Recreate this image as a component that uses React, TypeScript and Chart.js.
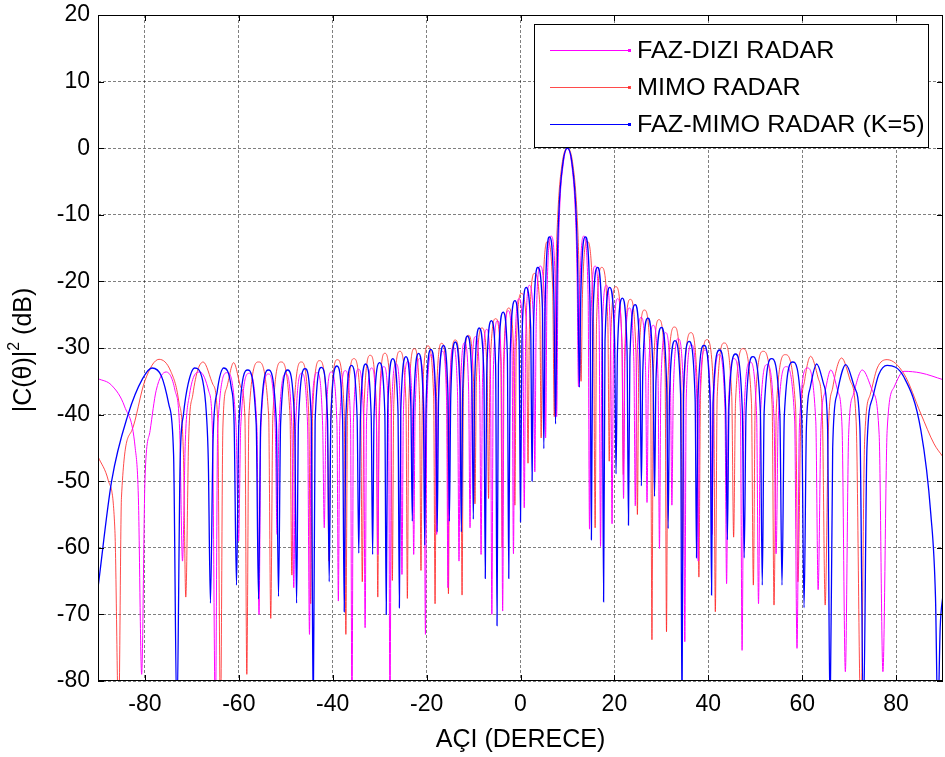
import { useEffect, useRef } from "react";
import { Chart, registerables } from "chart.js";

Chart.register(...registerables);

// ---- axis / labels ----
const xTickValues = [-80, -60, -40, -20, 0, 20, 40, 60, 80];
const yMin = -80;
const yMax = 20;
const yStep = 10;
const xMin = -90;
const xMax = 90;
const xTitle = "AÇI (DERECE)";
const yTitleParts = ["|C(θ)|", "2", " (dB)"];
const legendLabels = ["FAZ-DIZI RADAR", "MIMO RADAR", "FAZ-MIMO RADAR (K=5)"];
const seriesColors = ["#ff00ff", "rgba(255,30,30,0.8)", "#0000ff"];

// ---- series: [angle (deg), level (dB)] ----
const fazDizi: [number, number][] = [
  [-90, -34.6], [-87.1, -35.6], [-84.3, -38.85], [-82.1, -44.85], [-81.4, -52.4],
  [-80.7, -79],
  [-80, -49.9], [-78.9, -42.4], [-77.6, -36.35], [-75.5, -33.6], [-73.6, -36.35], [-72.6, -42.4],
  [-72.0, -62],
  [-71.4, -44], [-70.5, -37], [-68.3, -33.6], [-66.4, -36.5], [-65.6, -43],
  [-65.0, -86],
  [-64.5, -42], [-62.5, -33.7], [-60.6, -41.7],
  [-60.05, -59],
  [-59.6, -41.8], [-57.8, -33.8], [-56.15, -41.9],
  [-55.7, -70],
  [-55.3, -41.9], [-53.7, -33.9], [-52.25, -41.9],
  [-51.85, -58],
  [-51.45, -41.9], [-50.0, -33.9], [-48.7, -41.8],
  [-48.3, -66],
  [-47.9, -41.8], [-46.6, -33.8], [-45.35, -41.7],
  [-44.95, -73],
  [-44.6, -41.7], [-43.3, -33.7], [-42.15, -41.6],
  [-41.8, -57],
  [-41.45, -41.6], [-40.3, -33.6], [-39.1, -41.4],
  [-38.8, -68],
  [-38.5, -41.4], [-37.3, -33.4], [-36.2, -41.2],
  [-35.9, -86],
  [-35.6, -41.2], [-34.5, -33.2], [-33.4, -41],
  [-33.1, -72],
  [-32.8, -41], [-31.7, -33.0], [-30.7, -40.8],
  [-30.4, -61],
  [-30.1, -40.8], [-29.1, -32.8], [-28.1, -40.4],
  [-27.8, -86],
  [-27.5, -40.4], [-26.5, -32.4], [-25.55, -40],
  [-25.25, -64],
  [-24.95, -40], [-24.0, -32.0], [-23.05, -39.6],
  [-22.75, -61],
  [-22.45, -39.6], [-21.5, -31.6], [-20.55, -39],
  [-20.25, -73],
  [-19.95, -39], [-19.0, -31.0], [-18.15, -38.5],
  [-17.85, -58],
  [-17.55, -38.5], [-16.6, -30.5], [-15.75, -37.9],
  [-15.45, -66],
  [-15.15, -37.9], [-14.3, -29.9], [-13.4, -37.2],
  [-13.1, -62],
  [-12.8, -37.2], [-11.9, -29.2], [-11.05, -36.3],
  [-10.75, -57],
  [-10.45, -36.3], [-9.6, -28.3], [-8.7, -35.2],
  [-8.4, -61],
  [-8.1, -35.2], [-7.2, -27.2], [-6.4, -33.9],
  [-6.1, -70],
  [-5.8, -33.9], [-4.9, -25.9], [-4.1, -32.4],
  [-3.8, -69.5],
  [-3.5, -32.4], [-2.6, -24.4], [-1.8, -30.6],
  [-1.5, -60.9],
  [-1.2, -30.6], [-0.3, -22.6], [0.5, -28.6],
  [0.8, -54],
  [1.1, -28.6], [1.9, -20.6], [2.75, -26],
  [3.05, -48.6],
  [3.35, -26], [4.2, -17.7], [5.05, -22],
  [5.35, -43.5],
  [5.65, -22], [6.5, -13.2], [7.4, -20],
  [7.7, -40.3],
  [8.0, -19], [8.3, -10], [9.1, -2.4], [10, 0], [10.9, -2.4], [11.7, -10], [12.05, -19],
  [12.35, -35.8],
  [12.65, -21], [13.5, -13.2], [14.4, -22],
  [14.7, -57.2],
  [15.0, -26], [15.9, -17.7], [16.75, -26.5],
  [17.05, -59.8],
  [17.35, -29], [18.3, -20.6], [19.2, -29],
  [19.5, -56.4],
  [19.8, -30.6], [20.7, -22.6], [21.65, -30.6],
  [21.95, -52.6],
  [22.25, -32], [23.2, -24.0], [24.15, -32],
  [24.45, -53.7],
  [24.75, -33.4], [25.7, -25.4], [26.65, -33.4],
  [26.95, -53.2],
  [27.25, -34.6], [28.3, -26.6], [29.3, -34.6],
  [29.6, -60.1],
  [29.9, -35.7], [30.9, -27.7], [31.95, -35.7],
  [32.25, -53.6],
  [32.55, -36.6], [33.6, -28.6], [34.7, -36.6],
  [35.0, -74.1],
  [35.3, -37.5], [36.4, -29.5], [37.55, -37.5],
  [37.85, -62],
  [38.15, -38.3], [39.3, -30.3], [40.5, -38.3],
  [40.8, -58],
  [41.1, -39], [42.3, -31.0], [43.55, -39],
  [43.9, -65.4],
  [44.25, -39.6], [45.5, -31.6], [46.85, -39.6],
  [47.2, -75.4],
  [47.6, -40.1], [48.9, -32.1], [50.3, -40.1],
  [50.7, -68.4],
  [51.1, -40.5], [52.5, -32.5], [54.0, -40.5],
  [54.45, -60.9],
  [54.9, -40.8], [56.6, -32.8], [58.4, -40.8],
  [58.9, -75.1],
  [59.4, -42], [61.1, -33.0], [62.9, -41],
  [63.4, -66.3],
  [64.0, -42], [64.9, -36.5], [66.1, -33.3], [67.6, -36.5], [68.5, -42],
  [69.2, -78.6],
  [69.9, -43], [70.9, -37], [72.8, -33.3], [75.0, -36.5], [76.4, -43],
  [77.2, -78.6],
  [78.1, -42.4], [79.6, -35.85], [81.7, -33.5], [85.3, -33.75], [90, -34.75],
];

const mimo: [number, number][] = [
  [-90, -46.3], [-87.8, -49.9], [-86.4, -57.4],
  [-85.6, -86],
  [-85, -52.4], [-82.8, -42.4], [-80, -34.9], [-77.0, -31.7], [-74.5, -33.5], [-72.8, -38], [-71.8, -46],
  [-71.3, -67.4],
  [-70.7, -44], [-69.8, -37], [-67.6, -32.1], [-65.5, -35.5], [-64.5, -41],
  [-63.9, -86],
  [-63.4, -42], [-62.6, -36], [-61.1, -32.2], [-59.5, -36], [-58.7, -40.5],
  [-58.3, -79],
  [-57.85, -40.1], [-55.8, -32.1], [-53.65, -40.1],
  [-53.2, -70.6],
  [-52.75, -40.1], [-51.0, -32.1], [-49.1, -40.1],
  [-48.7, -64.1],
  [-48.3, -40.1], [-46.7, -32.1], [-45.1, -40],
  [-44.7, -68.4],
  [-44.3, -39.9], [-42.8, -31.9], [-41.2, -39.8],
  [-40.8, -62],
  [-40.4, -39.8], [-39.0, -31.75], [-37.55, -39.6],
  [-37.2, -73],
  [-36.85, -39.6], [-35.5, -31.6], [-34.05, -39.1],
  [-33.7, -65.1],
  [-33.35, -39.1], [-32.0, -31.1], [-30.7, -38.8],
  [-30.4, -67.4],
  [-30.1, -38.8], [-28.9, -30.8], [-27.6, -38.5],
  [-27.3, -64.9],
  [-27.0, -38.5], [-25.7, -30.5], [-24.4, -38.1],
  [-24.1, -67.6],
  [-23.8, -38.1], [-22.6, -30.1], [-21.5, -37.7],
  [-21.2, -63.4],
  [-20.9, -37.7], [-19.7, -29.7], [-18.5, -37.3],
  [-18.2, -68.4],
  [-17.9, -37.3], [-16.8, -29.3], [-15.65, -36.8],
  [-15.35, -66.9],
  [-15.05, -36.8], [-13.9, -28.8], [-12.75, -36.1],
  [-12.45, -67.1],
  [-12.15, -36.1], [-11.1, -28.1], [-10.0, -35],
  [-9.7, -53.4],
  [-9.4, -35], [-8.2, -27.0], [-7.1, -33.6],
  [-6.8, -52.6],
  [-6.5, -33.6], [-5.3, -25.6], [-4.2, -32],
  [-3.9, -60],
  [-3.6, -32], [-2.5, -24.0], [-1.5, -29.8],
  [-1.2, -53.6],
  [-0.9, -29.8], [0.2, -21.8], [1.3, -27],
  [1.6, -47.3],
  [1.9, -27], [3.0, -18.8], [4.1, -23.5],
  [4.4, -43.5],
  [4.7, -23.5], [5.8, -14.0], [6.85, -21],
  [7.2, -40.3],
  [7.55, -19], [7.95, -10], [8.85, -2.4], [10, 0], [11.15, -2.4], [12.05, -10], [12.5, -19],
  [12.9, -35],
  [13.2, -22], [14.2, -14.0], [15.55, -26],
  [15.9, -57],
  [16.2, -26], [17.3, -17.9], [18.6, -26],
  [18.9, -47],
  [19.2, -29], [20.3, -20.8], [21.6, -29],
  [21.9, -49],
  [22.2, -30.7], [23.4, -22.7], [24.6, -30.7],
  [24.9, -55],
  [25.2, -32.3], [26.4, -24.3], [27.7, -32.3],
  [28.0, -73.8],
  [28.3, -33.75], [29.5, -25.75], [30.8, -33.75],
  [31.1, -72.6],
  [31.4, -34.85], [32.8, -26.85], [34.15, -34.85],
  [34.5, -62],
  [34.85, -35.7], [36.3, -27.7], [37.65, -35.7],
  [38.0, -64.4],
  [38.35, -36.75], [39.7, -28.75], [41.15, -36.75],
  [41.5, -69.6],
  [41.9, -37.25], [43.4, -29.25], [45.0, -37.25],
  [45.4, -58.4],
  [45.8, -38.1], [47.4, -30.1], [49.2, -38.1],
  [49.6, -65.6],
  [50.0, -38.5], [51.7, -30.5], [53.6, -38.5],
  [54.0, -68.6],
  [54.5, -39], [56.4, -31.0], [58.6, -39],
  [59.1, -65.1],
  [59.7, -41], [60.5, -35], [61.8, -31.25], [63.4, -34.5], [64.3, -40],
  [64.9, -68.6],
  [65.6, -42], [66.5, -36], [68.4, -31.5], [70.3, -35], [71.5, -41],
  [72.5, -86],
  [73.3, -44], [74.5, -37], [76.0, -33], [78.1, -31.75], [81.7, -33.9], [85.3, -39.9], [88.1, -44.4], [90, -46.35],
];

const fazMimo: [number, number][] = [
  [-90, -66], [-87.1, -50], [-83.6, -40], [-80.5, -34.6], [-78.5, -33], [-76.5, -34.2], [-74.9, -38.5], [-73.9, -46],
  [-73.2, -86],
  [-72.5, -47], [-71.8, -40], [-70.8, -35.4], [-69.4, -33], [-67.7, -34.9], [-66.9, -40], [-66.5, -47],
  [-66.05, -68.3],
  [-65.5, -44], [-64.6, -36.5], [-63.2, -33], [-61.6, -36], [-61.0, -41.5],
  [-60.5, -65.6],
  [-60.0, -41.5], [-58.1, -33.3], [-56.3, -41.5],
  [-55.8, -67.7],
  [-55.35, -41.3], [-53.7, -33.3], [-52.0, -41.3],
  [-51.55, -67.3],
  [-51.1, -41.3], [-49.6, -33.3], [-48.1, -41.2],
  [-47.7, -68.3],
  [-47.3, -41.2], [-45.9, -33.1], [-44.55, -41],
  [-44.15, -86],
  [-43.75, -41], [-42.4, -32.9], [-41.1, -40.8],
  [-40.75, -65.1],
  [-40.4, -40.8], [-39.1, -32.7], [-37.9, -40.6],
  [-37.55, -69.6],
  [-37.2, -40.6], [-36.0, -32.6], [-34.8, -40.5],
  [-34.45, -60.8],
  [-34.1, -40.5], [-33.0, -32.4], [-31.8, -40.3],
  [-31.5, -61],
  [-31.2, -40.2], [-30.0, -32.2], [-28.9, -39.8],
  [-28.6, -70],
  [-28.3, -39.6], [-27.2, -31.6], [-26.1, -39.4],
  [-25.8, -69],
  [-25.5, -39.3], [-24.4, -31.3], [-23.35, -38.8],
  [-23.05, -56],
  [-22.75, -38.8], [-21.7, -30.8], [-20.7, -38.3],
  [-20.4, -59.6],
  [-20.1, -38.2], [-19.1, -30.2], [-18.05, -37.6],
  [-17.75, -57.6],
  [-17.45, -37.6], [-16.4, -29.6], [-15.45, -37.1],
  [-15.15, -56],
  [-14.85, -37.1], [-13.9, -29.1], [-12.9, -36.2],
  [-12.6, -57.6],
  [-12.3, -36.2], [-11.3, -28.2], [-10.35, -35],
  [-10.05, -55.7],
  [-9.75, -35], [-8.8, -27], [-7.8, -34],
  [-7.5, -64.6],
  [-7.2, -34], [-6.2, -25.9], [-5.3, -32.6],
  [-5.0, -71.7],
  [-4.7, -32.6], [-3.7, -24.6], [-2.8, -31],
  [-2.5, -64.6],
  [-2.2, -31], [-1.2, -22.9], [-0.3, -29],
  [0.0, -56.1],
  [0.3, -29], [1.2, -20.9], [2.17, -27],
  [2.47, -50],
  [2.77, -27], [3.7, -17.9], [4.67, -24],
  [4.97, -45.1],
  [5.27, -23], [6.2, -13.3], [7.1, -22],
  [7.47, -41.4],
  [7.8, -19], [8.15, -10], [9.0, -2.4], [10, 0], [11.0, -2.4], [11.85, -10], [12.2, -19],
  [12.54, -35.9],
  [12.85, -22], [13.8, -13.3], [14.8, -23],
  [15.1, -58.8],
  [15.4, -26], [16.4, -17.9], [17.4, -27],
  [17.7, -68.1],
  [18.0, -29], [19.0, -20.9], [20.05, -29],
  [20.35, -48.9],
  [20.65, -30.5], [21.7, -22.5], [22.7, -30.5],
  [23.0, -56.6],
  [23.3, -31.5], [24.4, -23.5], [25.45, -32],
  [25.75, -50.7],
  [26.05, -33.5], [27.1, -25.5], [28.25, -34],
  [28.55, -52.3],
  [28.85, -35], [30.0, -26.9], [31.15, -36],
  [31.45, -57.1],
  [31.75, -37], [32.9, -28.9], [34.1, -37],
  [34.4, -86],
  [34.7, -37], [35.9, -29.0], [37.2, -37.6],
  [37.5, -61.5],
  [37.8, -37.6], [39.1, -29.6], [40.4, -38.3],
  [40.7, -67.1],
  [41.0, -38.3], [42.4, -30.3], [43.7, -38.9],
  [44.07, -58.8],
  [44.4, -38.9], [45.8, -30.9], [47.25, -39.3],
  [47.65, -61.5],
  [48.05, -39.3], [49.5, -31.3], [51.1, -39.6],
  [51.5, -65.6],
  [51.9, -39.6], [53.5, -31.6], [55.25, -40.1],
  [55.7, -65.6],
  [56.2, -40.1], [58.0, -32.1], [59.9, -40.4],
  [60.4, -69],
  [60.9, -42], [61.7, -36], [63.1, -32.4], [64.6, -35.5], [65.4, -41.5],
  [65.95, -86],
  [66.5, -45], [67.4, -37], [69.3, -32.5], [71.2, -36], [72.3, -42],
  [73.05, -86],
  [73.8, -45], [75.0, -37.5], [76.3, -34], [78.1, -32.6], [81.7, -34.4], [85.3, -42.4], [87.4, -54.9], [88.4, -67.4],
  [88.9, -86],
  [89.4, -72], [90, -67],
];

const FONT = '"Liberation Sans", Arial, Helvetica, sans-serif';

const framePlugin = {
  id: "matlabFrame",
  afterDraw(chart: any) {
    const { ctx, chartArea } = chart;
    const xs = chart.scales.x;
    const ys = chart.scales.y;
    const { left, right, top, bottom } = chartArea;
    ctx.save();
    // box
    ctx.strokeStyle = "#000";
    ctx.lineWidth = 1;
    ctx.setLineDash([]);
    ctx.strokeRect(left + 0.5, top + 0.5, right - left - 1, bottom - top - 1);
    // inward ticks
    const tl = 6;
    ctx.beginPath();
    xTickValues.forEach((v) => {
      const px = Math.round(xs.getPixelForValue(v)) + 0.5;
      ctx.moveTo(px, bottom);
      ctx.lineTo(px, bottom - tl);
      ctx.moveTo(px, top);
      ctx.lineTo(px, top + tl);
    });
    for (let v = yMin; v <= yMax; v += yStep) {
      const py = Math.round(ys.getPixelForValue(v)) + 0.5;
      ctx.moveTo(left, py);
      ctx.lineTo(left + tl, py);
      ctx.moveTo(right, py);
      ctx.lineTo(right - tl, py);
    }
    ctx.stroke();

    // axis titles
    ctx.fillStyle = "#000";
    ctx.font = `25px ${FONT}`;
    ctx.textAlign = "center";
    ctx.textBaseline = "middle";
    ctx.fillText(xTitle, (left + right) / 2, 740);

    ctx.save();
    ctx.translate(24, 350);
    ctx.rotate(-Math.PI / 2);
    ctx.textAlign = "left";
    ctx.font = `25px ${FONT}`;
    const w0 = ctx.measureText(yTitleParts[0]).width;
    const w2 = ctx.measureText(yTitleParts[2]).width;
    ctx.font = `16px ${FONT}`;
    const w1 = ctx.measureText(yTitleParts[1]).width;
    let cx = -(w0 + w1 + w2) / 2;
    ctx.font = `25px ${FONT}`;
    ctx.fillText(yTitleParts[0], cx, 0);
    cx += w0;
    ctx.font = `16px ${FONT}`;
    ctx.fillText(yTitleParts[1], cx, -9);
    cx += w1;
    ctx.font = `25px ${FONT}`;
    ctx.fillText(yTitleParts[2], cx, 0);
    ctx.restore();

    // legend
    const lx = 534, ly = 24, lw = 394, lh = 123;
    ctx.fillStyle = "#fff";
    ctx.fillRect(lx, ly, lw, lh);
    ctx.strokeStyle = "#000";
    ctx.lineWidth = 1;
    ctx.strokeRect(lx + 0.5, ly + 0.5, lw, lh);
    const rows = [50, 87, 124];
    legendLabels.forEach((lab, i) => {
      const y = rows[i] + 0.5;
      ctx.strokeStyle = seriesColors[i];
      ctx.lineWidth = 1;
      ctx.beginPath();
      ctx.moveTo(550, y);
      ctx.lineTo(630, y);
      ctx.stroke();
      ctx.fillStyle = seriesColors[i];
      ctx.fillRect(628, y - 1.5, 3, 3);
      ctx.save();
      ctx.translate(637, rows[i] + 1);
      ctx.scale(1.05, 1);
      ctx.fillStyle = "#000";
      ctx.font = `24px ${FONT}`;
      ctx.textAlign = "left";
      ctx.textBaseline = "middle";
      ctx.fillText(lab, 0, 0);
      ctx.restore();
    });
    ctx.restore();
  },
};

export default function App() {
  const canvasRef = useRef<HTMLCanvasElement | null>(null);

  useEffect(() => {
    const canvas = canvasRef.current;
    if (!canvas) return;
    const toPts = (arr: [number, number][]) => arr.map(([x, y]) => ({ x, y }));
    const chart = new Chart(canvas, {
      type: "line",
      data: {
        datasets: [
          {
            label: legendLabels[0],
            data: toPts(fazDizi),
            borderColor: seriesColors[0],
            borderWidth: 1,
            order: 1,
          },
          {
            label: legendLabels[1],
            data: toPts(mimo),
            borderColor: seriesColors[1],
            borderWidth: 1,
            order: 2,
          },
          {
            label: legendLabels[2],
            data: toPts(fazMimo),
            borderColor: seriesColors[2],
            borderWidth: 1.3,
            order: 0,
          },
        ] as any,
      },
      options: {
        animation: false,
        responsive: false,
        devicePixelRatio: 1,
        elements: {
          point: { radius: 0, hoverRadius: 0 },
          line: { cubicInterpolationMode: "monotone", fill: false },
        },
        layout: { padding: { left: 0, right: 2, top: 15, bottom: 0 } },
        plugins: {
          legend: { display: false },
          tooltip: { enabled: false },
          title: { display: false },
        },
        events: [],
        scales: {
          x: {
            type: "linear",
            min: xMin,
            max: xMax,
            afterBuildTicks: (s: any) => {
              s.ticks = xTickValues.map((v) => ({ value: v }));
            },
            afterFit: (s: any) => {
              s.height = 76;
              s.paddingLeft = 0;
              s.paddingRight = 0;
            },
            grid: { color: "rgba(0,0,0,0.5)", lineWidth: 1, drawTicks: false },
            border: { display: false, dash: [3, 2] },
            ticks: {
              color: "#000",
              font: { family: FONT, size: 23 },
              padding: 10,
              maxRotation: 0,
              autoSkip: false,
            },
          },
          y: {
            type: "linear",
            min: yMin,
            max: yMax,
            afterFit: (s: any) => {
              s.width = 98;
              s.paddingTop = 0;
              s.paddingBottom = 0;
            },
            grid: { color: "rgba(0,0,0,0.5)", lineWidth: 1, drawTicks: false },
            border: { display: false, dash: [3, 2] },
            ticks: {
              stepSize: yStep,
              color: "#000",
              font: { family: FONT, size: 23 },
              padding: 8,
            },
          },
        },
      },
      plugins: [framePlugin],
    });
    return () => chart.destroy();
  }, []);

  return (
    <div style={{ position: "absolute", left: 0, top: 0, width: 945, height: 757, background: "#fff" }}>
      <canvas ref={canvasRef} width={945} height={757} style={{ display: "block" }} />
    </div>
  );
}
